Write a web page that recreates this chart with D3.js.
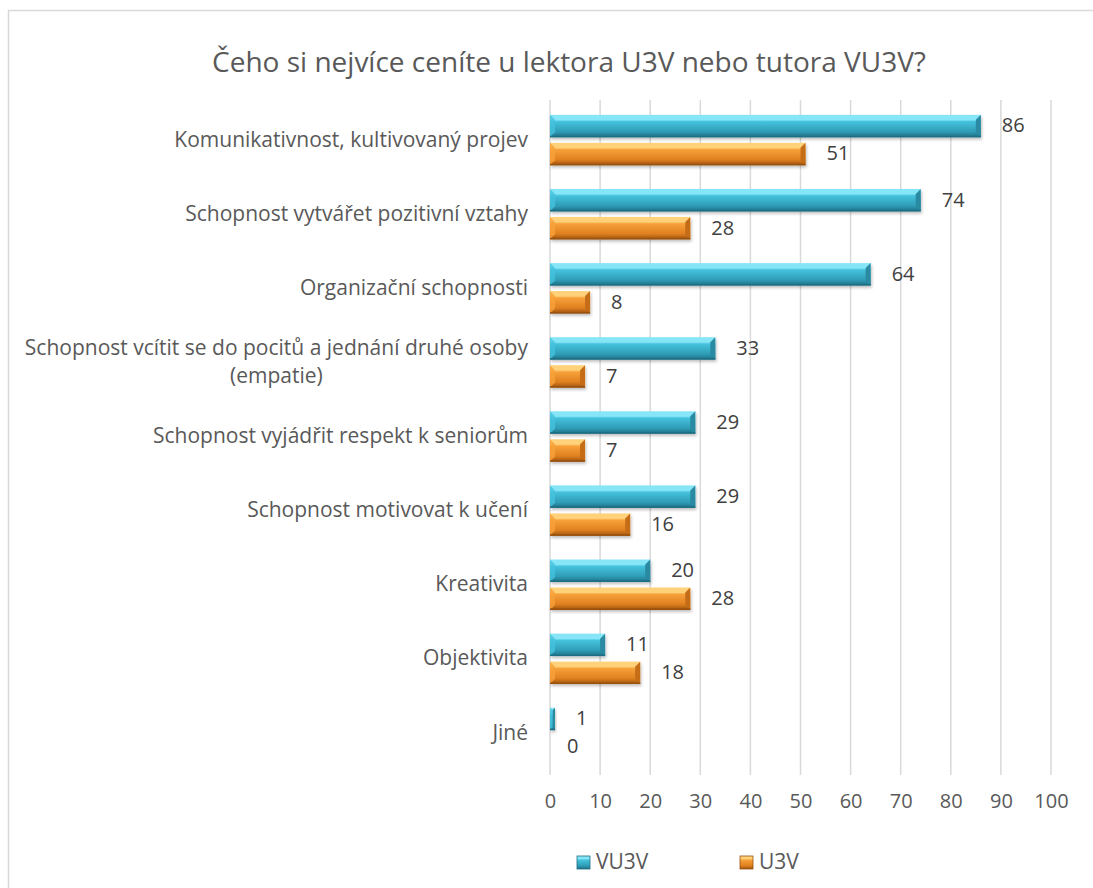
<!DOCTYPE html>
<html>
<head>
<meta charset="utf-8">
<script src="https://cdn.jsdelivr.net/npm/d3@7"></script>
<style>
  body { margin: 0; background: #fff; }
  text { font-family: 'Open Sans', sans-serif; }
</style>
</head>
<body>
<div id="chart"></div>
<script>
const categories = [
  'Komunikativnost, kultivovaný projev',
  'Schopnost vytvářet pozitivní vztahy',
  'Organizační schopnosti',
  'Schopnost vcítit se do pocitů a jednání druhé osoby|(empatie)',
  'Schopnost vyjádřit respekt k seniorům',
  'Schopnost motivovat k učení',
  'Kreativita',
  'Objektivita',
  'Jiné'
]
const seriesNames = ['VU3V', 'U3V']
const vu3v = [86, 74, 64, 33, 29, 29, 20, 11, 1]
const u3v = [51, 28, 8, 7, 7, 16, 28, 18, 0]
const xTicks = [0, 10, 20, 30, 40, 50, 60, 70, 80, 90, 100]
const title = 'Čeho si nejvíce ceníte u lektora U3V nebo tutora VU3V?'

const W = 1093
const H = 888
const labelSize = 21
const numSize = 20

const svg = d3
  .select('#chart')
  .append('svg')
  .attr('width', W)
  .attr('height', H)

const defs = svg.append('defs')

const palettes = {
  VU3V: { top: '#86e6f8', mid: '#45c2dd', low: '#2f9db7', edge: '#1f6f84', cap: '#2a8aa2' },
  U3V: { top: '#ffd27a', mid: '#f7a13a', low: '#e0801f', edge: '#9a5210', cap: '#c46c18' }
}

seriesNames.forEach(s => {
  const p = palettes[s]
  const g = defs
    .append('linearGradient')
    .attr('id', 'grad-' + s)
    .attr('x1', 0).attr('y1', 0).attr('x2', 0).attr('y2', 1)
  g.append('stop').attr('offset', '0%').attr('stop-color', p.top)
  g.append('stop').attr('offset', '22%').attr('stop-color', p.top)
  g.append('stop').attr('offset', '30%').attr('stop-color', p.mid)
  g.append('stop').attr('offset', '75%').attr('stop-color', p.low)
  g.append('stop').attr('offset', '100%').attr('stop-color', p.edge)
})

const shadow = defs.append('filter').attr('id', 'shadow')
  .attr('x', '-10%').attr('y', '-30%').attr('width', '130%').attr('height', '180%')
shadow.append('feDropShadow')
  .attr('dx', 1).attr('dy', 2).attr('stdDeviation', 1.5)
  .attr('flood-color', '#000').attr('flood-opacity', 0.25)

// outer border
svg.append('rect')
  .attr('x', 8.5).attr('y', 10.5)
  .attr('width', W + 20).attr('height', H + 20)
  .attr('fill', 'none')
  .attr('stroke', '#d9d9d9')
  .attr('stroke-width', 1.5)

svg.append('text')
  .attr('x', 569)
  .attr('y', 72)
  .attr('text-anchor', 'middle')
  .attr('fill', '#595959')
  .style('font-size', '28px')
  .text(title)

const xScale = d3.scaleLinear().domain([0, 100]).range([550, 1051])
const yScale = d3.scaleBand().domain(categories).range([103, 770])
const bw = yScale.bandwidth()
const ySub = d3.scaleBand().domain(seriesNames).range([bw * 0.16, bw * 0.84]).paddingInner(0.2)

// gridlines
svg.append('g')
  .selectAll('line')
  .data(xTicks)
  .enter()
  .append('line')
  .attr('x1', d => xScale(d))
  .attr('x2', d => xScale(d))
  .attr('y1', 100)
  .attr('y2', 775)
  .attr('stroke', '#d9d9d9')
  .attr('stroke-width', 1.5)

// x axis labels
const xAxis = d3.axisBottom(xScale).tickValues(xTicks).tickSize(0).tickPadding(0)
const axisG = svg.append('g')
  .attr('transform', 'translate(0,794)')
  .call(xAxis)
axisG.select('.domain').remove()
axisG.selectAll('text')
  .attr('fill', '#595959')
  .attr('dy', '0.71em')
  .style('font-size', numSize + 'px')
  .style('font-family', "'Open Sans', sans-serif")

// category labels
const catG = svg.append('g')
categories.forEach(c => {
  const lines = c.split('|')
  const cy = yScale(c) + bw / 2 + 1
  if (lines.length === 1) {
    catG.append('text')
      .attr('x', 528)
      .attr('y', cy)
      .attr('text-anchor', 'end')
      .attr('dominant-baseline', 'middle')
      .attr('fill', '#595959')
      .style('font-size', labelSize + 'px')
      .text(lines[0])
  } else {
    const t = catG.append('text')
      .attr('text-anchor', 'middle')
      .attr('fill', '#595959')
      .style('font-size', labelSize + 'px')
    const tmp = catG.append('text').style('font-size', labelSize + 'px').text(lines[0])
    const w = tmp.node().getComputedTextLength()
    tmp.remove()
    const cx = 528 - w / 2
    lines.forEach((l, i) => {
      t.append('tspan')
        .attr('x', cx)
        .attr('y', cy + (i - (lines.length - 1) / 2) * 28)
        .attr('dominant-baseline', 'middle')
        .text(l)
    })
  }
})

// bars
const rows = categories.map((c, i) => ({ cat: c, VU3V: vu3v[i], U3V: u3v[i] }))

const groups = svg.append('g')
  .selectAll('.row')
  .data(rows)
  .enter()
  .append('g')
  .attr('transform', d => `translate(0,${yScale(d.cat)})`)

groups.each(function(row) {
  const container = d3.select(this)
  seriesNames.forEach(s => {
    const v = row[s]
    const p = palettes[s]
    const x0 = xScale(0)
    const x1 = xScale(v)
    const y0 = ySub(s)
    const h = ySub.bandwidth()
    const w = x1 - x0
    if (w > 0) {
      const bar = container.append('g').attr('filter', 'url(#shadow)')
      bar.append('rect')
        .attr('x', x0)
        .attr('y', y0)
        .attr('width', w)
        .attr('height', h)
        .attr('fill', `url(#grad-${s})`)
      const b = Math.min(5, w / 2)
      // right bevel
      bar.append('path')
        .attr('d', `M${x1 - b},${y0 + b} L${x1},${y0} L${x1},${y0 + h} L${x1 - b},${y0 + h - b} Z`)
        .attr('fill', p.cap)
      // left bevel
      bar.append('path')
        .attr('d', `M${x0},${y0} L${x0 + b},${y0 + b} L${x0 + b},${y0 + h - b} L${x0},${y0 + h} Z`)
        .attr('fill', p.mid)
        .attr('opacity', 0.8)
      // bottom edge
      bar.append('rect')
        .attr('x', x0)
        .attr('y', y0 + h - 1.5)
        .attr('width', w)
        .attr('height', 1.5)
        .attr('fill', p.edge)
    }
    container.append('text')
      .attr('x', x1 + (v === 0 ? 17 : 21))
      .attr('y', y0 + h / 2 + 1)
      .attr('dominant-baseline', 'middle')
      .attr('fill', '#404040')
      .style('font-size', numSize + 'px')
      .text(v)
  })
})

// legend
const legendX = [577, 740]
const legend = svg.append('g')
seriesNames.forEach((s, i) => {
  const p = palettes[s]
  legend.append('rect')
    .attr('x', legendX[i])
    .attr('y', 856)
    .attr('width', 13)
    .attr('height', 13)
    .attr('fill', `url(#grad-${s})`)
    .attr('stroke', p.edge)
    .attr('stroke-width', 0.8)
  legend.append('text')
    .attr('x', legendX[i] + 19)
    .attr('y', 863)
    .attr('dominant-baseline', 'middle')
    .attr('fill', '#595959')
    .style('font-size', labelSize + 'px')
    .text(s)
})
</script>
</body>
</html>
